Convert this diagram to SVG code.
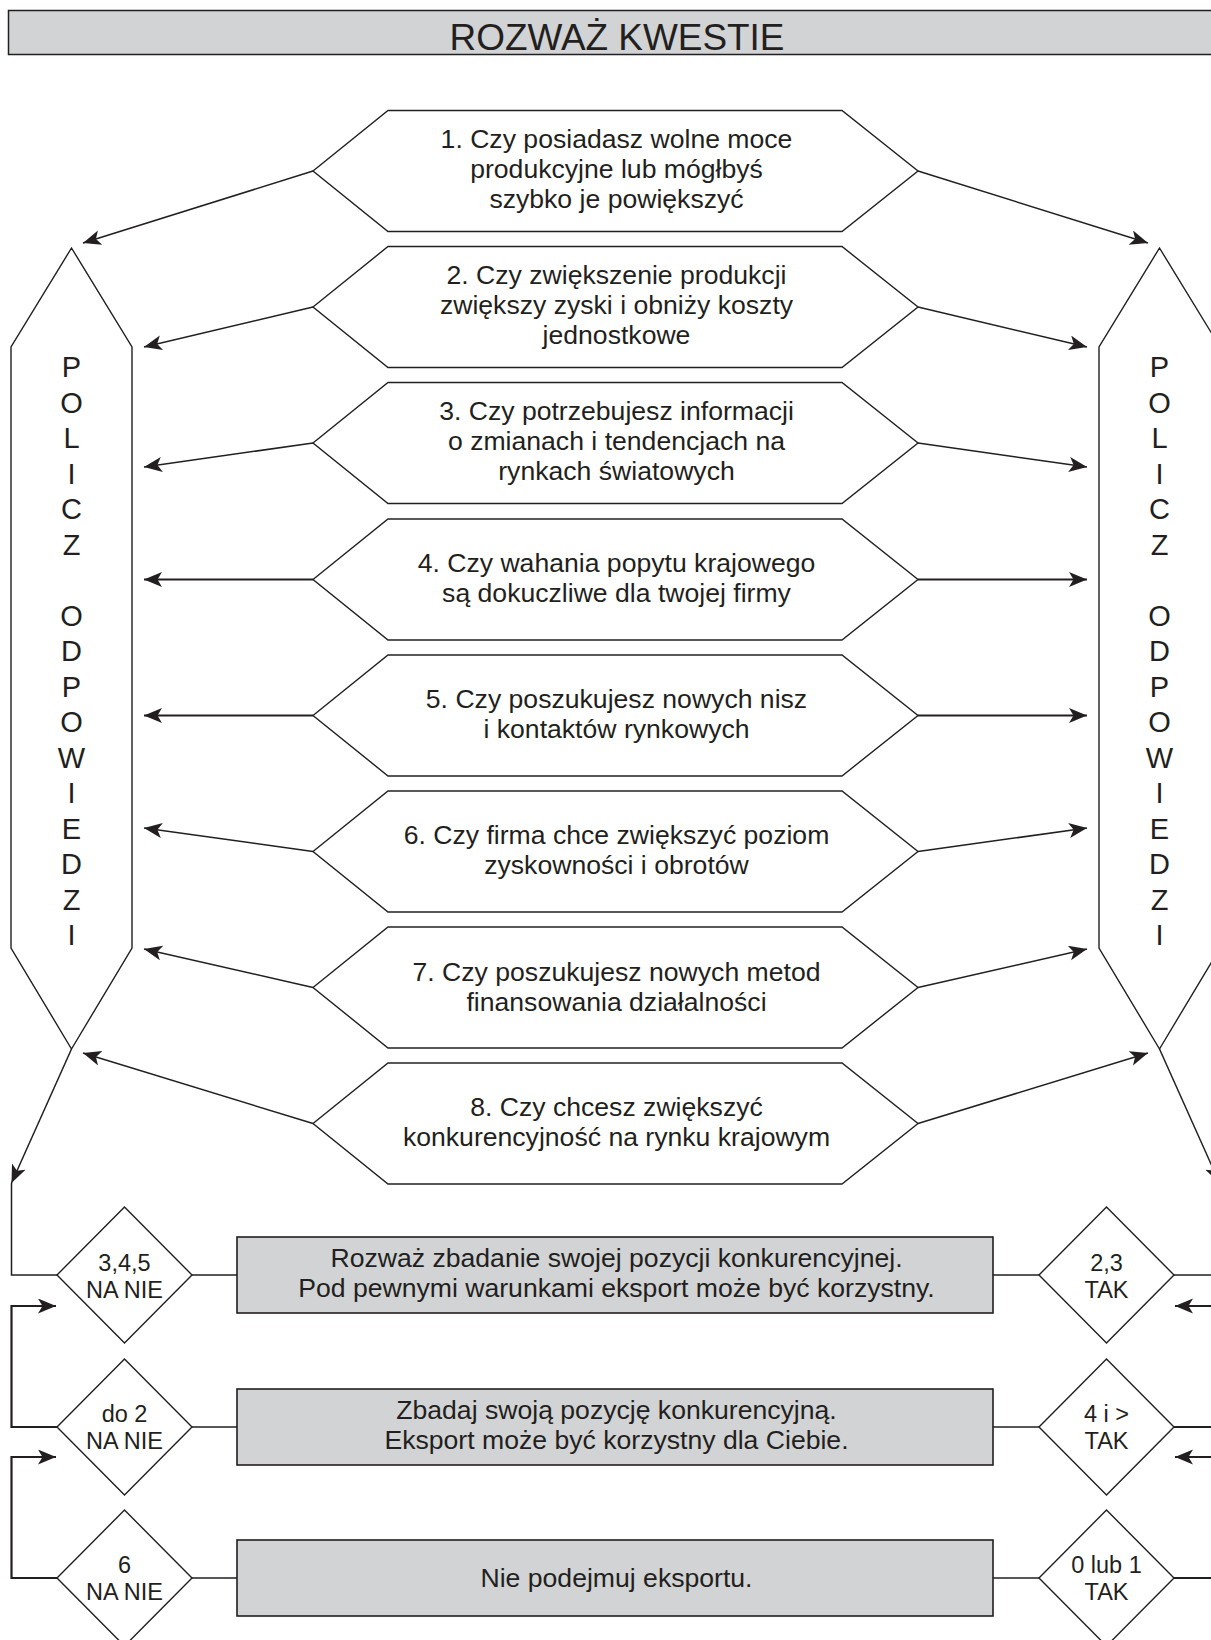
<svg xmlns="http://www.w3.org/2000/svg" width="1211" height="1640" viewBox="0 0 1211 1640">
  <style>
    .hex { fill: #ffffff; stroke: #231f20; stroke-width: 1.4; stroke-linejoin: miter; }
    .pen { fill: #ffffff; stroke: #231f20; stroke-width: 1.4; }
    .box { fill: #d1d3d4; stroke: #231f20; stroke-width: 1.6; }
    .dia { fill: #ffffff; stroke: #231f20; stroke-width: 1.4; }
    .ln  { fill: none; stroke: #231f20; stroke-width: 1.5; }
    .lnb { fill: none; stroke: #231f20; stroke-width: 2.2; }
    .arr { marker-end: url(#ah); }
    .t   { font-family: "Liberation Sans", Arial, Helvetica, sans-serif; font-size: 26.6px; fill: #231f20; text-anchor: middle; }
    .ts  { font-size: 23.5px; }
    .tp  { font-size: 29px; }
    .tt  { font-size: 37.5px; }
  </style>
  <defs>
    <marker id="ah" markerUnits="userSpaceOnUse" viewBox="0 0 20 16" markerWidth="20" markerHeight="16" refX="18" refY="7.5" orient="auto">
      <path d="M0,0 L18,7.5 L0,15 L4.5,7.5 Z" fill="#231f20"/>
    </marker>
  </defs>

  <!-- header bar -->
  <g id="title">
    <rect x="8.5" y="10.5" width="1215" height="44" fill="#d1d3d4" stroke="#231f20" stroke-width="1.5"/>
    <text class="t tt" x="617" y="49.5" textLength="335" lengthAdjust="spacingAndGlyphs">ROZWAŻ KWESTIE</text>
  </g>

  <!-- side columns -->
  <g id="answers-left">
    <polygon class="pen" points="71.5,248 132,347 132,948 71.5,1049 11,948 11,347"/>
    <text class="t tp" x="71.5" y="377">P<tspan x="71.5" dy="35.5">O</tspan><tspan x="71.5" dy="35.5">L</tspan><tspan x="71.5" dy="35.5">I</tspan><tspan x="71.5" dy="35.5">C</tspan><tspan x="71.5" dy="35.5">Z</tspan><tspan x="71.5" dy="71">O</tspan><tspan x="71.5" dy="35.5">D</tspan><tspan x="71.5" dy="35.5">P</tspan><tspan x="71.5" dy="35.5">O</tspan><tspan x="71.5" dy="35.5">W</tspan><tspan x="71.5" dy="35.5">I</tspan><tspan x="71.5" dy="35.5">E</tspan><tspan x="71.5" dy="35.5">D</tspan><tspan x="71.5" dy="35.5">Z</tspan><tspan x="71.5" dy="35.5">I</tspan></text>
  </g>
  <g id="answers-right">
    <polygon class="pen" points="1159.5,248 1220,347 1220,948 1159.5,1049 1099,948 1099,347"/>
    <text class="t tp" x="1159.5" y="377">P<tspan x="1159.5" dy="35.5">O</tspan><tspan x="1159.5" dy="35.5">L</tspan><tspan x="1159.5" dy="35.5">I</tspan><tspan x="1159.5" dy="35.5">C</tspan><tspan x="1159.5" dy="35.5">Z</tspan><tspan x="1159.5" dy="71">O</tspan><tspan x="1159.5" dy="35.5">D</tspan><tspan x="1159.5" dy="35.5">P</tspan><tspan x="1159.5" dy="35.5">O</tspan><tspan x="1159.5" dy="35.5">W</tspan><tspan x="1159.5" dy="35.5">I</tspan><tspan x="1159.5" dy="35.5">E</tspan><tspan x="1159.5" dy="35.5">D</tspan><tspan x="1159.5" dy="35.5">Z</tspan><tspan x="1159.5" dy="35.5">I</tspan></text>
  </g>

  <!-- questions -->
  <g id="q1">
    <path class="hex" d="M313,171 L388,110.5 L842,110.5 L918,171 L842,231.5 L388,231.5 Z"/>
    <text class="t" x="616.5" y="148">1. Czy posiadasz wolne moce</text>
    <text class="t" x="616.5" y="178">produkcyjne lub mógłbyś</text>
    <text class="t" x="616.5" y="208">szybko je powiększyć</text>
  </g>
  <g id="q2">
    <path class="hex" d="M313,307 L388,246.5 L842,246.5 L918,307 L842,367.5 L388,367.5 Z"/>
    <text class="t" x="616.5" y="284">2. Czy zwiększenie produkcji</text>
    <text class="t" x="616.5" y="314">zwiększy zyski i obniży koszty</text>
    <text class="t" x="616.5" y="344">jednostkowe</text>
  </g>
  <g id="q3">
    <path class="hex" d="M313,443 L388,382.5 L842,382.5 L918,443 L842,503.5 L388,503.5 Z"/>
    <text class="t" x="616.5" y="420">3. Czy potrzebujesz informacji</text>
    <text class="t" x="616.5" y="450">o zmianach i tendencjach na</text>
    <text class="t" x="616.5" y="480">rynkach światowych</text>
  </g>
  <g id="q4">
    <path class="hex" d="M313,579.5 L388,519 L842,519 L918,579.5 L842,640 L388,640 Z"/>
    <text class="t" x="616.5" y="572">4. Czy wahania popytu krajowego</text>
    <text class="t" x="616.5" y="602">są dokuczliwe dla twojej firmy</text>
  </g>
  <g id="q5">
    <path class="hex" d="M313,715.5 L388,655 L842,655 L918,715.5 L842,776 L388,776 Z"/>
    <text class="t" x="616.5" y="708">5. Czy poszukujesz nowych nisz</text>
    <text class="t" x="616.5" y="738">i kontaktów rynkowych</text>
  </g>
  <g id="q6">
    <path class="hex" d="M313,851.5 L388,791 L842,791 L918,851.5 L842,912 L388,912 Z"/>
    <text class="t" x="616.5" y="844">6. Czy firma chce zwiększyć poziom</text>
    <text class="t" x="616.5" y="874">zyskowności i obrotów</text>
  </g>
  <g id="q7">
    <path class="hex" d="M313,987.5 L388,927 L842,927 L918,987.5 L842,1048 L388,1048 Z"/>
    <text class="t" x="616.5" y="981">7. Czy poszukujesz nowych metod</text>
    <text class="t" x="616.5" y="1011">finansowania działalności</text>
  </g>
  <g id="q8">
    <path class="hex" d="M313,1123.5 L388,1063 L842,1063 L918,1123.5 L842,1184 L388,1184 Z"/>
    <text class="t" x="616.5" y="1116">8. Czy chcesz zwiększyć</text>
    <text class="t" x="616.5" y="1146">konkurencyjność na rynku krajowym</text>
  </g>

  <!-- outcomes -->
  <g id="result1">
    <rect class="box" x="237" y="1237" width="756" height="76"/>
    <text class="t" x="616.5" y="1267">Rozważ zbadanie swojej pozycji konkurencyjnej.</text>
    <text class="t" x="616.5" y="1297">Pod pewnymi warunkami eksport może być korzystny.</text>
  </g>
  <g id="result2">
    <rect class="box" x="237" y="1389" width="756" height="76"/>
    <text class="t" x="616.5" y="1419">Zbadaj swoją pozycję konkurencyjną.</text>
    <text class="t" x="616.5" y="1449">Eksport może być korzystny dla Ciebie.</text>
  </g>
  <g id="result3">
    <rect class="box" x="237" y="1540" width="756" height="76"/>
    <text class="t" x="616.5" y="1587">Nie podejmuj eksportu.</text>
  </g>

  <!-- score tests, "no" side -->
  <g id="no-345">
    <polygon class="dia" points="124.5,1207 192,1275 124.5,1343 57,1275"/>
    <text class="t ts" x="124.5" y="1271">3,4,5</text>
    <text class="t ts" x="124.5" y="1298">NA NIE</text>
  </g>
  <g id="no-2">
    <polygon class="dia" points="124.5,1359 192,1427 124.5,1495 57,1427"/>
    <text class="t ts" x="124.5" y="1422">do 2</text>
    <text class="t ts" x="124.5" y="1449">NA NIE</text>
  </g>
  <g id="no-6">
    <polygon class="dia" points="124.5,1510 192,1578 124.5,1646 57,1578"/>
    <text class="t ts" x="124.5" y="1573">6</text>
    <text class="t ts" x="124.5" y="1600">NA NIE</text>
  </g>

  <!-- score tests, "yes" side -->
  <g id="yes-23">
    <polygon class="dia" points="1106.5,1207 1174,1275 1106.5,1343 1039,1275"/>
    <text class="t ts" x="1106.5" y="1271">2,3</text>
    <text class="t ts" x="1106.5" y="1298">TAK</text>
  </g>
  <g id="yes-4">
    <polygon class="dia" points="1106.5,1359 1174,1427 1106.5,1495 1039,1427"/>
    <text class="t ts" x="1106.5" y="1422">4 i &gt;</text>
    <text class="t ts" x="1106.5" y="1449">TAK</text>
  </g>
  <g id="yes-01">
    <polygon class="dia" points="1106.5,1510 1174,1578 1106.5,1646 1039,1578"/>
    <text class="t ts" x="1106.5" y="1573">0 lub 1</text>
    <text class="t ts" x="1106.5" y="1600">TAK</text>
  </g>

  <!-- connectors -->
  <g id="connectors">
    <!-- questions to the left column -->
    <line class="ln arr" x1="313" y1="171" x2="83" y2="243"/>
    <line class="ln arr" x1="313" y1="307" x2="144" y2="347"/>
    <line class="ln arr" x1="313" y1="443" x2="144" y2="467"/>
    <line class="lnb arr" x1="313" y1="579.5" x2="144" y2="579.5"/>
    <line class="lnb arr" x1="313" y1="715.5" x2="144" y2="715.5"/>
    <line class="ln arr" x1="313" y1="851.5" x2="144" y2="828"/>
    <line class="ln arr" x1="313" y1="987.5" x2="144" y2="949"/>
    <line class="ln arr" x1="313" y1="1123.5" x2="83" y2="1053"/>
    <!-- questions to the right column -->
    <line class="ln arr" x1="918" y1="171" x2="1148" y2="243"/>
    <line class="ln arr" x1="918" y1="307" x2="1087" y2="347"/>
    <line class="ln arr" x1="918" y1="443" x2="1087" y2="467"/>
    <line class="lnb arr" x1="918" y1="579.5" x2="1087" y2="579.5"/>
    <line class="lnb arr" x1="918" y1="715.5" x2="1087" y2="715.5"/>
    <line class="ln arr" x1="918" y1="851.5" x2="1087" y2="828"/>
    <line class="ln arr" x1="918" y1="987.5" x2="1087" y2="949"/>
    <line class="ln arr" x1="918" y1="1123.5" x2="1148" y2="1053"/>

    <!-- left column down to the "no" tests -->
    <line class="ln arr" x1="71.5" y1="1049" x2="11.5" y2="1183"/>
    <path class="ln" d="M11.5,1183 V1275 H57"/>
    <path class="lnb arr" d="M57,1427 H11.5 V1306 H56"/>
    <path class="lnb arr" d="M57,1578 H11.5 V1457 H56"/>
    <path class="ln" d="M192,1275 H237 M192,1427 H237 M192,1578 H237"/>

    <!-- right column down to the "yes" tests -->
    <line class="ln arr" x1="1159.5" y1="1049" x2="1219.5" y2="1183"/>
    <path class="ln" d="M1219.5,1183 V1275 H1174"/>
    <path class="lnb arr" d="M1174,1427 H1219.5 V1306 H1175"/>
    <path class="lnb arr" d="M1174,1578 H1219.5 V1457 H1175"/>
    <path class="ln" d="M993,1275 H1039 M993,1427 H1039 M993,1578 H1039"/>
  </g>
</svg>
